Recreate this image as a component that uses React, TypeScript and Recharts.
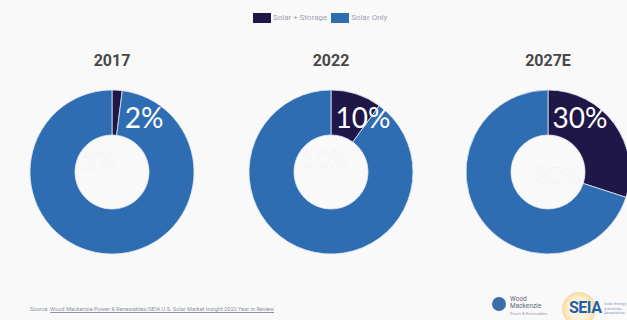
import React from "react";
import { PieChart, Pie, Cell } from "recharts";

// ---- data ----
const years = ["2017", "2022", "2027E"];
const solarStorageShare = [2, 10, 30];
const solarOnlyShare = [98, 90, 70];
const seriesNames = ["Solar + Storage", "Solar Only"];
const seriesColors = ["#1f1747", "#2f6db3"];
const sourceText =
  "Source: Wood Mackenzie Power & Renewables/SEIA U.S. Solar Market Insight 2022 Year in Review";

// ---- layout ----
const W = 627;
const H = 320;
const centersX = [112, 331, 548];
const centerY = 172;
const OUTER = 82;
const INNER = 37;
const centerLabelOffsets = [
  [-13, -12],
  [-6, -14],
  [10, 3],
];

const pieData = years.map((y, i) => [
  { name: seriesNames[0], value: solarStorageShare[i] },
  { name: seriesNames[1], value: solarOnlyShare[i] },
]);

const makeLabel = (pieIndex: number) => (props: any) => {
  if (props.index !== 0) return null;
  const { cx, cy, value } = props;
  const [ox, oy] = centerLabelOffsets[pieIndex];
  return (
    <g>
      <text
        x={cx + ox}
        y={cy + oy}
        textAnchor="middle"
        dominantBaseline="central"
        fill="#ffffff"
        stroke="#eaeaea"
        strokeWidth={0.4}
        fontFamily="Lato, 'Noto Sans', sans-serif"
        fontSize={23}
      >
        {value}%
      </text>
      <text
        x={cx + 32}
        y={cy - 55}
        textAnchor="middle"
        dominantBaseline="central"
        fill="#ffffff"
        fontFamily="Lato, 'Noto Sans', sans-serif"
        fontSize={28}
      >
        {value}%
      </text>
    </g>
  );
};

export default function App() {
  return (
    <div
      style={{
        position: "fixed",
        top: 0,
        left: 0,
        width: W,
        height: H,
        background: "#f9f9f9",
        overflow: "hidden",
        fontFamily: "Roboto, 'Noto Sans', sans-serif",
      }}
    >
      {/* legend */}
      <div
        style={{
          position: "absolute",
          top: 12,
          left: 253,
          display: "flex",
          alignItems: "center",
          fontSize: 8,
          color: "#a2a2ae",
          lineHeight: "11px",
          whiteSpace: "nowrap",
        }}
      >
        {seriesNames.map((n, i) => (
          <span key={n} style={{ display: "flex", alignItems: "center", marginRight: 4 }}>
            <span
              style={{
                display: "inline-block",
                width: 18,
                height: 10,
                background: seriesColors[i],
                marginRight: 2,
              }}
            />
            {n}
          </span>
        ))}
      </div>

      {/* titles */}
      {years.map((y, i) => (
        <div
          key={y}
          style={{
            position: "absolute",
            top: 51,
            left: centersX[i] - 50,
            width: 100,
            textAlign: "center",
            fontSize: 16,
            fontWeight: 700,
            color: "#484848",
          }}
        >
          {y}
        </div>
      ))}

      <div style={{ position: "absolute", top: 0, left: 0 }}>
        <PieChart width={W} height={H} margin={{ top: 0, right: 0, bottom: 0, left: 0 }}>
          {pieData.map((d, i) => (
            <Pie
              key={years[i]}
              data={d}
              dataKey="value"
              nameKey="name"
              cx={centersX[i]}
              cy={centerY}
              innerRadius={INNER}
              outerRadius={OUTER}
              startAngle={90}
              endAngle={-270}
              stroke="#dfe8f3"
              strokeWidth={0.8}
              isAnimationActive={false}
              labelLine={false}
              label={makeLabel(i)}
            >
              {d.map((e, j) => (
                <Cell key={e.name} fill={seriesColors[j]} />
              ))}
            </Pie>
          ))}
        </PieChart>
      </div>

      {/* source */}
      <div
        style={{
          position: "absolute",
          top: 306,
          left: 30,
          fontSize: 5.6,
          color: "#8c93a6",
          whiteSpace: "nowrap",
        }}
      >
        <span>Source: </span>
        <span style={{ textDecoration: "underline" }}>{sourceText.replace("Source: ", "")}</span>
      </div>

      {/* logos (as text) */}
      <div
        style={{
          position: "absolute",
          top: 296,
          left: 492,
          display: "flex",
          alignItems: "flex-start",
        }}
      >
        <span
          style={{
            display: "inline-block",
            width: 14,
            height: 14,
            borderRadius: "50%",
            background: "#3b6fa8",
            marginRight: 4,
            marginTop: 1,
          }}
        />
        <span style={{ fontSize: 6.5, lineHeight: "7px", color: "#5a6680" }}>
          Wood
          <br />
          Mackenzie
          <br />
          <span style={{ fontSize: 4, color: "#9aa3b5" }}>Power &amp; Renewables</span>
        </span>
      </div>
      <div
        style={{
          position: "absolute",
          top: 292,
          left: 562,
          width: 34,
          height: 34,
          borderRadius: "50%",
          background: "radial-gradient(circle, #fdf3dc 40%, #f6dca0 70%, #f9f9f9 72%)",
        }}
      />
      <div
        style={{
          position: "absolute",
          top: 298,
          left: 569,
          fontSize: 16,
          fontWeight: 700,
          color: "#1f5fa8",
          letterSpacing: -0.5,
        }}
      >
        SEIA
      </div>
      <div
        style={{
          position: "absolute",
          top: 302,
          left: 604,
          fontSize: 4,
          lineHeight: "4.5px",
          color: "#8aa0c0",
        }}
      >
        Solar Energy
        <br />
        Industries
        <br />
        Association
      </div>
    </div>
  );
}
